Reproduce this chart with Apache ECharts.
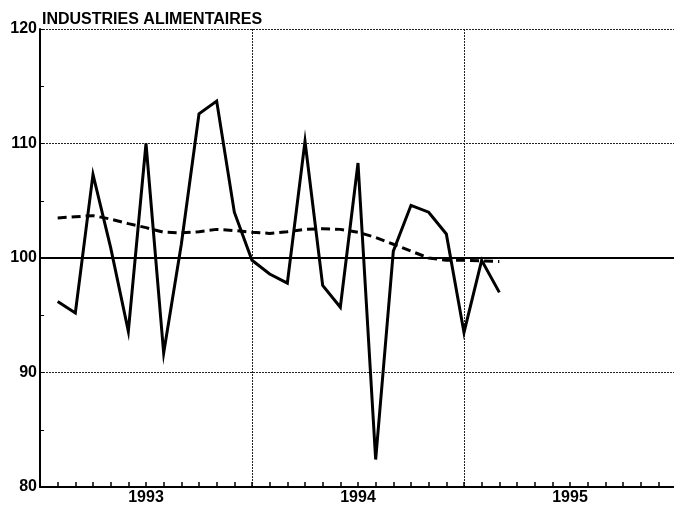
<!DOCTYPE html>
<html>
<head>
<meta charset="utf-8">
<script src="https://cdn.jsdelivr.net/npm/echarts@6/dist/echarts.min.js"></script>
<style>
  html, body { margin: 0; padding: 0; background: #fff; }
  #chart { width: 674px; height: 507px; }
</style>
</head>
<body>
<div id="chart"></div>
<script>
  // monthly index, Jan 1993 .. Feb 1995 (plotted at month end)
  const indexValues = [
    96.2, 95.2, 107.3, 100.9, 93.6, 110.0, 91.7, 101.2, 112.6, 113.7, 104.0, 99.8,
    98.6, 97.8, 110.2, 97.6, 95.7, 108.3, 82.4, 100.6, 104.6, 104.0, 102.1, 93.5,
    99.8, 97.0
  ];
  // trend (dashed)
  const trendValues = [
    103.5, 103.6, 103.7, 103.4, 103.0, 102.65, 102.25, 102.2, 102.3, 102.5, 102.4, 102.25,
    102.15, 102.3, 102.5, 102.55, 102.5, 102.25, 101.8, 101.2, 100.6, 100.0, 99.8, 99.8,
    99.75, 99.7
  ];
  const years = ['1993', '1994', '1995'];
  const title = 'INDUSTRIES ALIMENTAIRES';

  const toXY = arr => arr.map((v, i) => [i + 1, v]);
  const font = 'Liberation Sans, Arial, sans-serif';

  const chart = echarts.init(document.getElementById('chart'));
  const option = {
    animation: false,
    backgroundColor: '#fff',
    title: {
      text: title,
      left: 42,
      top: 12,
      padding: 0,
      textStyle: { fontFamily: font, fontWeight: 'bold', fontSize: 16, color: '#000' }
    },
    grid: { left: 40, top: 29, width: 636, height: 458, outerBoundsMode: 'none' },
    xAxis: [
      {
        type: 'value',
        min: 0,
        max: 36,
        interval: 1,
        axisLine: { show: true, lineStyle: { color: '#000', width: 2 } },
        axisTick: { show: true, inside: true, length: 5, lineStyle: { color: '#000', width: 1.5 } },
        splitLine: { show: false },
        axisLabel: {
          margin: 3,
          fontFamily: font,
          fontWeight: 'bold',
          fontSize: 16,
          color: '#000',
          formatter: v => (v % 12 === 6 ? years[(v - 6) / 12] : '')
        }
      },
      {
        type: 'value',
        min: 0,
        max: 36,
        interval: 12,
        position: 'bottom',
        axisLine: { show: false },
        axisTick: { show: false },
        axisLabel: { show: false },
        splitLine: {
          show: true,
          showMinLine: false,
          showMaxLine: false,
          lineStyle: { color: '#222', width: 1, type: [2, 1] }
        }
      }
    ],
    yAxis: {
      type: 'value',
      min: 80,
      max: 120,
      interval: 10,
      axisLine: { show: true, lineStyle: { color: '#000', width: 2 } },
      axisTick: { show: true, inside: true, length: 4, lineStyle: { color: '#000' } },
      minorTick: { show: true, splitNumber: 2, length: 4, lineStyle: { color: '#000' } },
      splitLine: { show: true, lineStyle: { color: '#222', width: 1, type: [2, 1] } },
      axisLabel: {
        margin: 3,
        fontFamily: font,
        fontWeight: 'bold',
        fontSize: 16,
        color: '#000'
      }
    },
    series: [
      {
        type: 'line',
        data: toXY(trendValues),
        showSymbol: false,
        lineStyle: { color: '#000', width: 3, type: [9, 5] },
        markLine: {
          silent: true,
          symbol: 'none',
          label: { show: false },
          lineStyle: { color: '#000', width: 2, type: 'solid' },
          data: [{ yAxis: 100 }]
        }
      },
      {
        type: 'line',
        data: toXY(indexValues),
        showSymbol: false,
        lineStyle: { color: '#000', width: 3, join: 'miter' }
      }
    ]
  };
  chart.setOption(option);
</script>
</body>
</html>
